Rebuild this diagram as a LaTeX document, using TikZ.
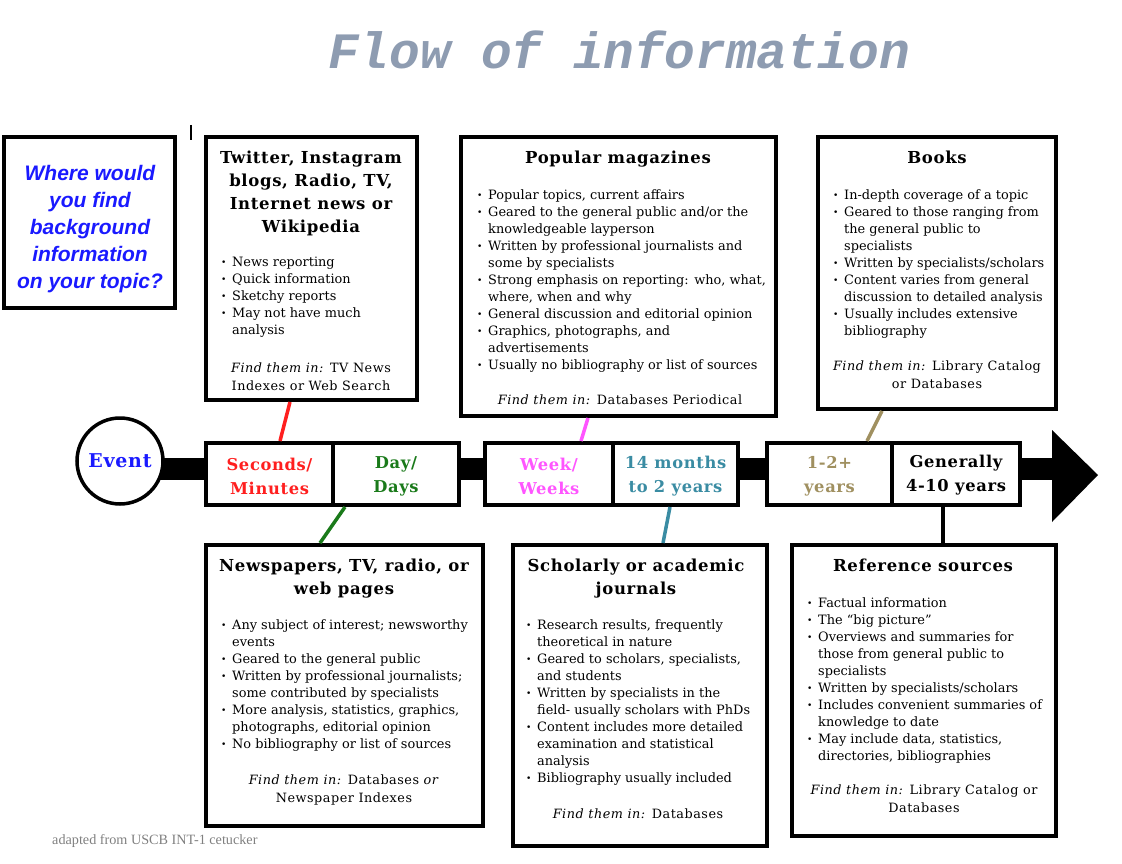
\documentclass[tikz,border=0pt]{standalone}
\usepackage{fontspec}
\setmainfont{DejaVu Serif}
\newfontfamily\headfont{DejaVu Serif}[LetterSpace=4]
\newfontfamily\findfont{DejaVu Serif}[LetterSpace=4]
\newfontfamily\titlefont{Liberation Mono}
\newfontfamily\qfont{Liberation Sans}
\newfontfamily\footfont{Liberation Serif}
\usetikzlibrary{calc}
\definecolor{titlecol}{HTML}{8E9CB1}
\definecolor{qblue}{HTML}{1A1AFF}
\definecolor{cred}{HTML}{FF1F1F}
\definecolor{cgreen}{HTML}{1A7A1A}
\definecolor{cpink}{HTML}{FF55FF}
\definecolor{cteal}{HTML}{3A8CA3}
\definecolor{ckhaki}{HTML}{A09060}
\definecolor{footgray}{HTML}{808080}
\newcommand{\bl}[1]{\makebox[11pt][l]{\fontsize{9}{9}\selectfont\raisebox{0.8pt}{•}}#1}
\newcommand{\cl}[1]{\makebox[11pt][l]{}#1}
\begin{document}
\begin{tikzpicture}[x=1pt,y=-1pt,
  box/.style={draw, line width=4pt, fill=white, inner sep=0pt},
  cell/.style={draw, line width=4pt, fill=white, inner sep=0pt, minimum height=62pt},
  lab/.style={inner sep=0pt, align=center, font=\headfont\bfseries\fontsize{16.3}{24}\selectfont},
  heading/.style={anchor=north, inner sep=0pt, align=center, font=\headfont\bfseries\fontsize{16.5}{23}\selectfont},
  body/.style={anchor=north west, inner sep=0pt, align=left, font=\fontsize{12.9}{17}\selectfont},
  find/.style={anchor=north, inner sep=0pt, align=center, font=\findfont\fontsize{12.8}{18}\selectfont},
  link/.style={line width=3.5pt}]
\useasboundingbox (0,0) rectangle (1122,864);

% title
\node[font=\titlefont\bfseries\itshape\fontsize{51}{51}\selectfont, text=titlecol, inner sep=0pt] (title) at (619,50) {Flow of information};

% cursor mark
\draw[line width=1.5pt] (191,125) -- (191,140);

% question box
\node[box, minimum width=171pt, minimum height=171pt] (Q) at (89.5,222.5) {};
\node[inner sep=0pt, align=center, text=qblue, font=\qfont\bfseries\itshape\fontsize{21}{27}\selectfont] (Qt) at (90,229) {Where would\\you find\\background\\information\\on your topic?};

% top boxes
\node[box, minimum width=211pt, minimum height=263pt] (T) at (311.5,268.5) {};
\node[box, minimum width=315pt, minimum height=279pt] (P) at (618.5,276.5) {};
\node[box, minimum width=238pt, minimum height=272pt] (B) at (937,273) {};
% bottom boxes
\node[box, minimum width=277pt, minimum height=281pt] (N) at (344.5,685.5) {};
\node[box, minimum width=254pt, minimum height=301pt] (S) at (640,695.5) {};
\node[box, minimum width=264pt, minimum height=291pt] (R) at (924,690.5) {};

% timeline bar and arrow head
\fill (120,458) rectangle (1052,480);
\fill (1052,430) -- (1098,475) -- (1052,522) -- cycle;

% event circle
\node[draw, circle, line width=3.5pt, fill=white, minimum size=86pt, inner sep=0pt, text=qblue,
  font=\headfont\bfseries\fontsize{19}{19}\selectfont] (Ev) at (120,461) {Event};

% timeline cells
\node[cell, minimum width=127pt] (Sec) at (269.5,474) {};
\node[cell, minimum width=126pt] (Day) at (396,474) {};
\node[cell, minimum width=128pt] (Week) at (549,474) {};
\node[cell, minimum width=125pt] (Mon) at (675.5,474) {};
\node[cell, minimum width=125pt] (Yrs) at (829.5,474) {};
\node[cell, minimum width=128pt] (Gen) at (956,474) {};
\node[lab, text=cred] (SecL) at ([yshift=-2.5pt]Sec.center) {Seconds/\\Minutes};
\node[lab, text=cgreen] (DayL) at ([yshift=-2.5pt]Day.center) {Day/\\Days};
\node[lab, text=cpink] (WeekL) at ([yshift=-2.5pt]Week.center) {Week/\\Weeks};
\node[lab, text=cteal] (MonL) at ([yshift=-2.5pt]Mon.center) {14 months\\to 2 years};
\node[lab, text=ckhaki] (YrsL) at ([yshift=-2.5pt]Yrs.center) {1-2+\\years};
\node[lab, text=black] (GenL) at ([yshift=-1.5pt]Gen.center) {Generally\\4-10 years};

% connectors
\draw[link, cred] ([xshift=-21.5pt]T.south) -- ([xshift=10.5pt]Sec.north);
\draw[link, cgreen] ([xshift=-51pt]Day.south) -- ([xshift=-24.5pt]N.north);
\draw[link, cpink] ([xshift=-30.5pt]P.south) -- ([xshift=32pt]Week.north);
\draw[link, cteal] ([xshift=-5.5pt]Mon.south) -- ([xshift=23pt]S.north);
\draw[link, ckhaki] ([xshift=-55pt]B.south) -- ([xshift=37.5pt]Yrs.north);
\draw[line width=4pt] ([xshift=-13pt]Gen.south) -- ([xshift=19pt]R.north);

% Twitter box text
\node[heading] (Th) at (311,150.5) {Twitter, Instagram\\blogs, Radio, TV,\\Internet news or\\Wikipedia};
\node[body] (Tb) at (221,257) {\bl{News reporting}\\\bl{Quick information}\\\bl{Sketchy reports}\\\bl{May not have much}\\\cl{analysis}};
\node[find] (Tf) at (311,363) {\textit{Find them in:} TV News\\Indexes or Web Search};

% Popular magazines text
\node[heading] (Ph) at (618,150.5) {Popular magazines};
\node[body] (Pb) at (477,189) {\bl{Popular topics, current affairs}\\\bl{Geared to the general public and/or the}\\\cl{knowledgeable layperson}\\\bl{Written by professional journalists and}\\\cl{some by specialists}\\\bl{Strong emphasis on reporting: who, what,}\\\cl{where, when and why}\\\bl{General discussion and editorial opinion}\\\bl{Graphics, photographs, and}\\\cl{advertisements}\\\bl{Usually no bibliography or list of sources}};
\node[find] (Pf) at (620,395) {\textit{Find them in:} Databases Periodical};

% Books text
\node[heading] (Bh) at (937,150.5) {Books};
\node[body] (Bb) at (833,189) {\bl{In-depth coverage of a topic}\\\bl{Geared to those ranging from}\\\cl{the general public to}\\\cl{specialists}\\\bl{Written by specialists/scholars}\\\bl{Content varies from general}\\\cl{discussion to detailed analysis}\\\bl{Usually includes extensive}\\\cl{bibliography}};
\node[find] (Bf) at (937,361) {\textit{Find them in:} Library Catalog\\or Databases};

% Newspapers text
\node[heading] (Nh) at (344,558.5) {Newspapers, TV, radio, or\\web pages};
\node[body] (Nb) at (221,619) {\bl{Any subject of interest; newsworthy}\\\cl{events}\\\bl{Geared to the general public}\\\bl{Written by professional journalists;}\\\cl{some contributed by specialists}\\\bl{More analysis, statistics, graphics,}\\\cl{photographs, editorial opinion}\\\bl{No bibliography or list of sources}};
\node[find] (Nf) at (344,775) {\textit{Find them in:} Databases \textit{or}\\Newspaper Indexes};

% Scholarly text
\node[heading] (Sh) at (636,558.5) {Scholarly or academic\\journals};
\node[body] (Sb) at (526,619) {\bl{Research results, frequently}\\\cl{theoretical in nature}\\\bl{Geared to scholars, specialists,}\\\cl{and students}\\\bl{Written by specialists in the}\\\cl{field- usually scholars with PhDs}\\\bl{Content includes more detailed}\\\cl{examination and statistical}\\\cl{analysis}\\\bl{Bibliography usually included}};
\node[find] (Sf) at (638,809) {\textit{Find them in:} Databases};

% Reference text
\node[heading] (Rh) at (923,558.5) {Reference sources};
\node[body] (Rb) at (807,597) {\bl{Factual information}\\\bl{The “big picture”}\\\bl{Overviews and summaries for}\\\cl{those from general public to}\\\cl{specialists}\\\bl{Written by specialists/scholars}\\\bl{Includes convenient summaries of}\\\cl{knowledge to date}\\\bl{May include data, statistics,}\\\cl{directories, bibliographies}};
\node[find] (Rf) at (924,785) {\textit{Find them in:} Library Catalog or\\Databases};

% footer
\node[anchor=west, inner sep=0pt, text=footgray, font=\footfont\fontsize{14.2}{14}\selectfont] (foot) at (52,841) {adapted from USCB INT-1 cetucker};
\end{tikzpicture}
\end{document}
